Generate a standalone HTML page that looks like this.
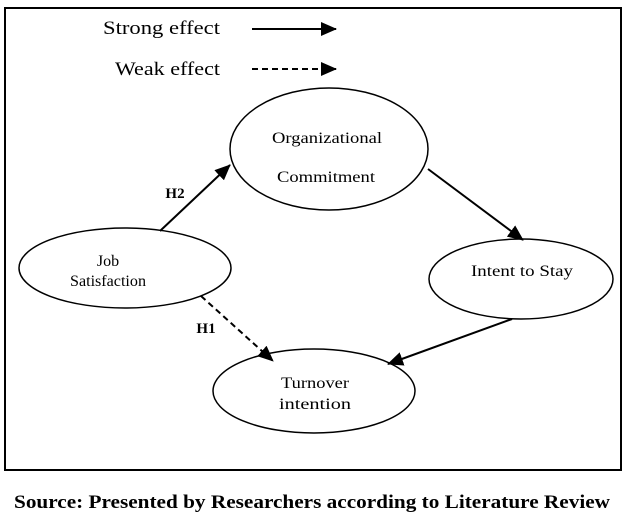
<!DOCTYPE html>
<html><head><style>
html,body{margin:0;padding:0;background:#fff;}
svg{display:block;}
</style></head><body>
<svg width="625" height="518" viewBox="0 0 625 518" xmlns="http://www.w3.org/2000/svg" font-family="Liberation Serif, serif">
<defs>
<marker id="b" markerWidth="16" markerHeight="14" refX="15" refY="7" orient="auto" markerUnits="userSpaceOnUse">
<path d="M0,0 L16,7 L0,14 z" fill="#000"/>
</marker>
</defs>
<rect x="5" y="8" width="616" height="462" fill="none" stroke="#000" stroke-width="2"/>
<text x="103" y="34" font-size="19" textLength="117" lengthAdjust="spacingAndGlyphs">Strong effect</text>
<line x1="252" y1="29" x2="336" y2="29" stroke="#000" stroke-width="2" marker-end="url(#b)"/>
<text x="115" y="75" font-size="19" textLength="105" lengthAdjust="spacingAndGlyphs">Weak effect</text>
<line x1="252" y1="69" x2="336" y2="69" stroke="#000" stroke-width="2" stroke-dasharray="6,4" marker-end="url(#b)"/>

<ellipse cx="329" cy="149" rx="99" ry="61" fill="none" stroke="#000" stroke-width="1.5"/>
<text x="272" y="143" font-size="16" textLength="110" lengthAdjust="spacingAndGlyphs">Organizational</text>
<text x="277" y="182" font-size="16" textLength="98" lengthAdjust="spacingAndGlyphs">Commitment</text>

<ellipse cx="125" cy="268" rx="106" ry="40" fill="none" stroke="#000" stroke-width="1.5"/>
<text x="108" y="266" font-size="16" text-anchor="middle">Job</text>
<text x="70" y="286" font-size="16" textLength="76" lengthAdjust="spacingAndGlyphs">Satisfaction</text>

<ellipse cx="521" cy="279" rx="92" ry="40" fill="none" stroke="#000" stroke-width="1.5"/>
<text x="471" y="276" font-size="16" textLength="102" lengthAdjust="spacingAndGlyphs">Intent to Stay</text>

<ellipse cx="314" cy="391" rx="101" ry="42" fill="none" stroke="#000" stroke-width="1.5"/>
<text x="281" y="388" font-size="16" textLength="68" lengthAdjust="spacingAndGlyphs">Turnover</text>
<text x="279" y="409" font-size="16" textLength="72" lengthAdjust="spacingAndGlyphs">intention</text>

<line x1="160" y1="231" x2="230" y2="165" stroke="#000" stroke-width="2" marker-end="url(#b)"/>
<line x1="428" y1="169" x2="523" y2="240" stroke="#000" stroke-width="2" marker-end="url(#b)"/>
<line x1="512" y1="319" x2="388" y2="364" stroke="#000" stroke-width="2" marker-end="url(#b)"/>
<line x1="201" y1="296" x2="273" y2="361" stroke="#000" stroke-width="2" stroke-dasharray="6,4" marker-end="url(#b)"/>

<text x="175" y="198" font-size="15" font-weight="bold" text-anchor="middle">H2</text>
<text x="206" y="333" font-size="15" font-weight="bold" text-anchor="middle">H1</text>

<text x="312" y="508" font-size="19" font-weight="bold" text-anchor="middle" textLength="596" lengthAdjust="spacingAndGlyphs">Source: Presented by Researchers according to Literature Review</text>
</svg>
</body></html>
